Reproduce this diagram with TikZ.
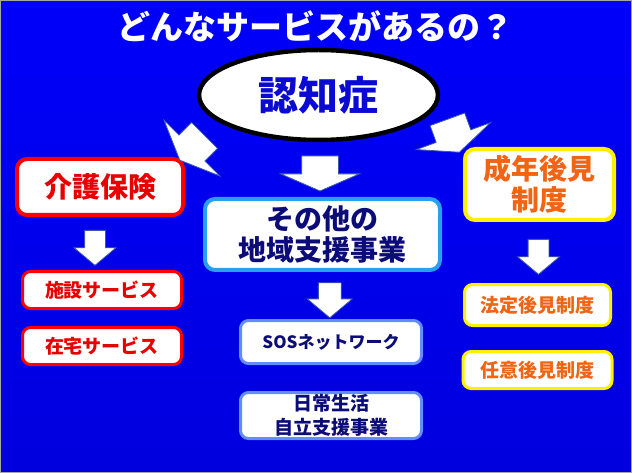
\documentclass[tikz,border=0pt]{standalone}
\usepackage{fontspec}
\setmainfont{Noto Sans CJK JP}
\usepackage{xcolor}
\usetikzlibrary{positioning, shapes.geometric, shapes.arrows, calc}

\definecolor{bgtop}{RGB}{0,0,250}
\definecolor{bgbot}{RGB}{0,0,222}
\definecolor{kaigored}{RGB}{232,0,0}
\definecolor{chiikiblue}{RGB}{40,160,240}
\definecolor{chiikinavy}{RGB}{12,12,120}
\definecolor{subblue}{RGB}{100,140,255}
\definecolor{seinenyellow}{RGB}{255,240,0}
\definecolor{seinenorange}{RGB}{240,100,20}
\definecolor{arrowedge}{RGB}{60,90,170}

\begin{document}
\begin{tikzpicture}[
    x=1pt, y=-1pt,
    node distance=16pt,
    every node/.style={font=\bfseries},
    bigbox/.style={rectangle, draw=#1, line width=4pt, rounded corners=10pt, fill=white, align=center, inner sep=0pt, font=\bfseries\fontsize{28}{31}\selectfont},
    smallbox/.style={rectangle, draw=#1, line width=3pt, rounded corners=8pt, fill=white, align=center, inner sep=0pt, font=\bfseries\fontsize{19}{24}\selectfont},
    widearrow/.style={single arrow, draw=arrowedge, fill=white, line width=0.8pt, inner xsep=0pt, inner ysep=18pt, minimum width=0pt, single arrow head extend=21pt, single arrow tip angle=133, minimum height=35pt},
    slimarrow/.style={widearrow, inner ysep=10pt, single arrow head extend=10.5pt, single arrow tip angle=100},
]
    % background
    \useasboundingbox (0,0) rectangle (632,473);
    \fill[top color=bgtop, bottom color=bgbot] (0,0) rectangle (632,473);
    \draw[gray!70, line width=1pt] (0.5,0.5) rectangle (631.5,472.5);

    \node[text=white, font=\bfseries\fontsize{33}{36}\selectfont] (title) at (315,26) {どんなサービスがあるの？};

    \node[ellipse, draw=black, line width=4.5pt, fill=white, minimum width=239pt, minimum height=90pt, inner sep=0pt,
          text={rgb,255:red,10;green,10;blue,210}, font=\bfseries\fontsize{40}{44}\selectfont] (ninchi) at (318.5,95) {認知症};

    % three services
    \node[bigbox=red, text=kaigored, minimum width=166pt, minimum height=56pt] (kaigo) at (100,187) {介護保険};
    \node[bigbox=chiikiblue, text=chiikinavy, minimum width=235pt, minimum height=71pt] (sonota) at (322.5,234.5) {その他の\\地域支援事業};
    \node[bigbox=seinenyellow, text=seinenorange, minimum width=149pt, minimum height=71pt] (seinen) at (539.5,184.5) {成年後見\\制度};

    % arrows from the ellipse
    \node[widearrow, rotate=-135] (aleft) at (195,145) {};
    \node[widearrow, rotate=-90] (amid) at (320,169.5) {};
    \node[widearrow, rotate=-70] (aright) at (452,132) {};

    % left column
    \node[smallbox=red, text=kaigored, minimum width=159pt, minimum height=37pt] (shisetsu) at (102,290) {施設サービス};
    \node[smallbox=red, text=kaigored, minimum width=159pt, minimum height=37pt, below=of shisetsu] (zaitaku) {在宅サービス};
    \node[slimarrow, rotate=-90] (akaigo) at ($(kaigo.south)!0.5!(shisetsu.north)+(-6,0)$) {};

    % middle column
    \node[smallbox=subblue, text=chiikinavy, minimum width=181pt, minimum height=43pt, font=\bfseries\fontsize{17}{22}\selectfont] (sos) at (331,342) {SOSネットワーク};
    \node[smallbox=subblue, text=chiikinavy, minimum width=181pt, minimum height=46pt, below=26pt of sos] (nichijo) {日常生活\\自立支援事業};
    \node[slimarrow, rotate=-90, inner ysep=11pt, single arrow head extend=11pt] (asonota) at ($(sonota.south)!0.5!(sos.north)+(3,0)$) {};

    % right column
    \node[smallbox=seinenyellow, text=seinenorange, minimum width=146pt, minimum height=41pt] (houtei) at (537.5,305) {法定後見制度};
    \node[smallbox=seinenyellow, text=seinenorange, minimum width=149pt, minimum height=37pt, below=23pt of houtei] (nini) {任意後見制度};
    \node[slimarrow, rotate=-90] (aseinen) at ($(seinen.south)!0.5!(houtei.north)$) {};
\end{tikzpicture}
\end{document}
